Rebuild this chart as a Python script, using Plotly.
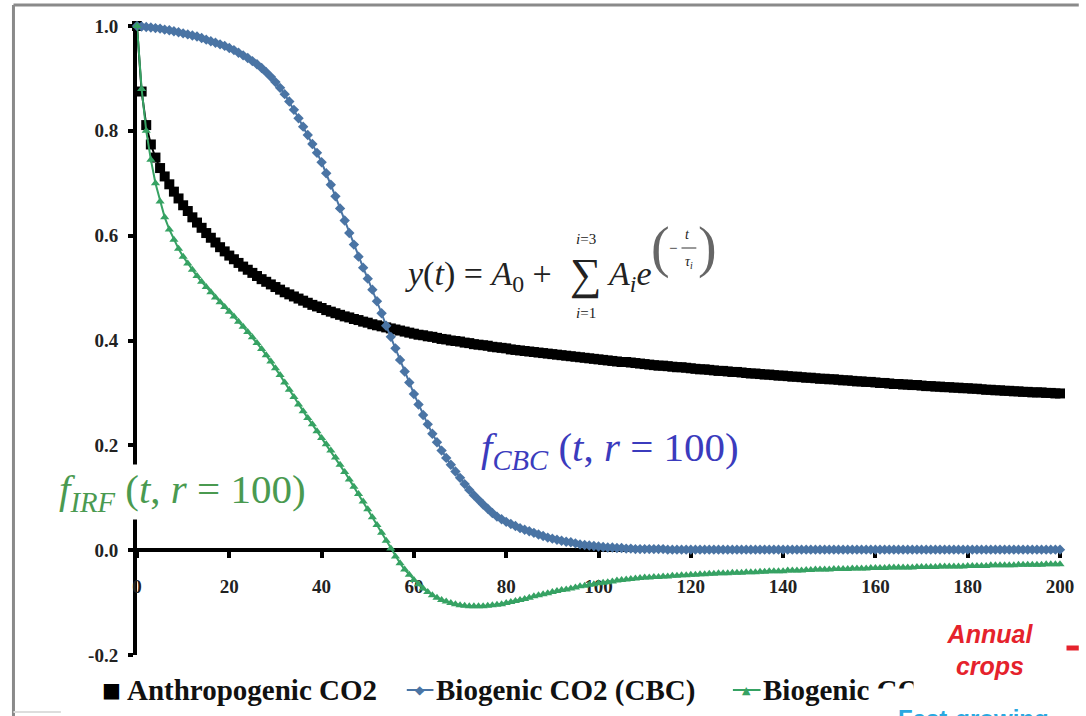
import plotly.graph_objects as go

# Years after the emission pulse
YEARS = list(range(0, 201))

ANTHROPOGENIC = [
    1.000, 0.875, 0.811, 0.774, 0.749, 0.729, 0.713, 0.698, 0.684, 0.671,
    0.658, 0.647, 0.635, 0.625, 0.615, 0.605, 0.596, 0.587, 0.578, 0.570,
    0.562, 0.555, 0.548, 0.541, 0.535, 0.529, 0.523, 0.517, 0.512, 0.507,
    0.502, 0.497, 0.492, 0.488, 0.484, 0.480, 0.476, 0.472, 0.468, 0.465,
    0.462, 0.458, 0.455, 0.452, 0.449, 0.446, 0.444, 0.441, 0.439, 0.436,
    0.434, 0.431, 0.429, 0.427, 0.425, 0.423, 0.421, 0.419, 0.417, 0.415,
    0.413, 0.411, 0.410, 0.408, 0.407, 0.405, 0.403, 0.402, 0.400, 0.399,
    0.398, 0.396, 0.395, 0.393, 0.392, 0.391, 0.390, 0.388, 0.387, 0.386,
    0.385, 0.383, 0.382, 0.381, 0.380, 0.379, 0.378, 0.377, 0.376, 0.375,
    0.374, 0.373, 0.372, 0.371, 0.370, 0.369, 0.368, 0.367, 0.366, 0.365,
    0.364, 0.363, 0.362, 0.361, 0.360, 0.359, 0.359, 0.358, 0.357, 0.356,
    0.355, 0.354, 0.353, 0.352, 0.352, 0.351, 0.350, 0.349, 0.349, 0.348,
    0.347, 0.346, 0.345, 0.345, 0.344, 0.343, 0.342, 0.342, 0.341, 0.340,
    0.340, 0.339, 0.338, 0.337, 0.337, 0.336, 0.335, 0.335, 0.334, 0.333,
    0.333, 0.332, 0.331, 0.331, 0.330, 0.329, 0.329, 0.328, 0.327, 0.327,
    0.326, 0.326, 0.325, 0.324, 0.324, 0.323, 0.322, 0.322, 0.321, 0.321,
    0.320, 0.319, 0.319, 0.318, 0.317, 0.317, 0.316, 0.316, 0.315, 0.315,
    0.314, 0.313, 0.313, 0.312, 0.312, 0.311, 0.311, 0.310, 0.310, 0.309,
    0.309, 0.308, 0.308, 0.307, 0.306, 0.306, 0.305, 0.305, 0.304, 0.304,
    0.303, 0.303, 0.302, 0.302, 0.301, 0.301, 0.301, 0.300, 0.300, 0.299,
    0.299,
]

BIOGENIC_CBC = [
    1.000, 0.999, 0.998, 0.997, 0.996, 0.995, 0.993, 0.992, 0.990, 0.988,
    0.986, 0.984, 0.982, 0.980, 0.977, 0.974, 0.971, 0.968, 0.965, 0.962,
    0.958, 0.954, 0.949, 0.944, 0.939, 0.933, 0.927, 0.920, 0.912, 0.903,
    0.893, 0.882, 0.870, 0.856, 0.840, 0.824, 0.808, 0.792, 0.775, 0.758,
    0.740, 0.719, 0.697, 0.675, 0.652, 0.629, 0.605, 0.583, 0.560, 0.539,
    0.518, 0.497, 0.475, 0.452, 0.428, 0.407, 0.385, 0.363, 0.341, 0.320,
    0.298, 0.278, 0.258, 0.240, 0.222, 0.206, 0.190, 0.176, 0.163, 0.150,
    0.138, 0.126, 0.115, 0.105, 0.096, 0.087, 0.079, 0.071, 0.064, 0.059,
    0.054, 0.050, 0.046, 0.042, 0.039, 0.036, 0.033, 0.030, 0.027, 0.024,
    0.022, 0.020, 0.018, 0.016, 0.015, 0.013, 0.011, 0.010, 0.009, 0.008,
    0.007, 0.006, 0.005, 0.005, 0.004, 0.004, 0.003, 0.003, 0.002, 0.002,
    0.002, 0.002, 0.002, 0.002, 0.002, 0.001, 0.001, 0.001, 0.001, 0.001,
    0.001, 0.001, 0.001, 0.001, 0.001, 0.001, 0.001, 0.001, 0.001, 0.001,
    0.001, 0.001, 0.001, 0.001, 0.001, 0.001, 0.001, 0.001, 0.001, 0.001,
    0.001, 0.001, 0.001, 0.001, 0.001, 0.001, 0.001, 0.001, 0.001, 0.001,
    0.001, 0.001, 0.001, 0.001, 0.001, 0.001, 0.001, 0.001, 0.001, 0.001,
    0.001, 0.001, 0.001, 0.001, 0.001, 0.001, 0.001, 0.001, 0.001, 0.001,
    0.001, 0.001, 0.001, 0.001, 0.001, 0.001, 0.001, 0.001, 0.001, 0.001,
    0.001, 0.001, 0.001, 0.001, 0.001, 0.001, 0.001, 0.001, 0.001, 0.001,
    0.001, 0.001, 0.001, 0.001, 0.001, 0.001, 0.001, 0.001, 0.001, 0.001,
    0.001,
]

BIOGENIC_IRF = [
    1.000, 0.880, 0.800, 0.745, 0.700, 0.665, 0.635, 0.612, 0.592, 0.575,
    0.560, 0.547, 0.535, 0.523, 0.512, 0.502, 0.492, 0.482, 0.473, 0.464,
    0.455, 0.446, 0.436, 0.426, 0.416, 0.406, 0.395, 0.384, 0.372, 0.360,
    0.347, 0.334, 0.320, 0.306, 0.292, 0.278, 0.265, 0.252, 0.240, 0.227,
    0.214, 0.202, 0.190, 0.177, 0.163, 0.149, 0.135, 0.121, 0.107, 0.093,
    0.078, 0.063, 0.048, 0.033, 0.018, 0.003, -0.012, -0.025, -0.037, -0.047,
    -0.057, -0.065, -0.073, -0.080, -0.086, -0.091, -0.095, -0.098, -0.101, -0.103,
    -0.105, -0.106, -0.107, -0.107, -0.107, -0.107, -0.106, -0.105, -0.104, -0.103,
    -0.101, -0.099, -0.097, -0.095, -0.093, -0.091, -0.088, -0.086, -0.084, -0.082,
    -0.080, -0.078, -0.076, -0.075, -0.073, -0.071, -0.069, -0.068, -0.066, -0.065,
    -0.063, -0.062, -0.061, -0.060, -0.058, -0.057, -0.056, -0.055, -0.054, -0.053,
    -0.052, -0.052, -0.051, -0.051, -0.050, -0.050, -0.049, -0.049, -0.048, -0.048,
    -0.047, -0.047, -0.046, -0.046, -0.045, -0.045, -0.044, -0.044, -0.044, -0.043,
    -0.043, -0.043, -0.042, -0.042, -0.042, -0.041, -0.041, -0.040, -0.040, -0.040,
    -0.040, -0.039, -0.039, -0.039, -0.039, -0.038, -0.038, -0.037, -0.037, -0.037,
    -0.037, -0.036, -0.036, -0.036, -0.036, -0.035, -0.035, -0.035, -0.035, -0.034,
    -0.034, -0.034, -0.034, -0.033, -0.033, -0.033, -0.033, -0.033, -0.033, -0.032,
    -0.032, -0.032, -0.032, -0.032, -0.031, -0.031, -0.031, -0.031, -0.031, -0.031,
    -0.030, -0.030, -0.030, -0.030, -0.030, -0.029, -0.029, -0.029, -0.029, -0.029,
    -0.029, -0.028, -0.028, -0.028, -0.028, -0.028, -0.028, -0.027, -0.027, -0.027,
    -0.027,
]

X_TICKS = [0, 20, 40, 60, 80, 100, 120, 140, 160, 180, 200]
Y_TICKS = [-0.2, 0.0, 0.2, 0.4, 0.6, 0.8, 1.0]

SERIES_NAMES = ["Anthropogenic CO2", "Biogenic CO2 (CBC)", "Biogenic CO2 (IRF)"]

BLACK = "#000000"
BLUE = "#4a74a4"
GREEN = "#36a263"
SERIF = "Liberation Serif"
SANS = "Liberation Sans"
NB = "\u00a0"

W, H = 1086, 716
L, R, T, B = 137, 15, 26, 61


def fx(px):
    return (px - L) / (W - L - R)


def fy(py):
    return (H - B - py) / (H - T - B)


fig = go.Figure()

fig.add_trace(go.Scatter(
    x=YEARS, y=ANTHROPOGENIC, name=SERIES_NAMES[0], mode="lines+markers",
    line=dict(color=BLACK, width=2),
    marker=dict(symbol="square", size=10, color=BLACK, line=dict(width=0)),
    cliponaxis=False,
))
fig.add_trace(go.Scatter(
    x=YEARS, y=BIOGENIC_CBC, name=SERIES_NAMES[1], mode="lines+markers",
    line=dict(color=BLUE, width=2),
    marker=dict(symbol="diamond", size=8, color=BLUE, line=dict(width=0)),
    cliponaxis=False,
))
fig.add_trace(go.Scatter(
    x=YEARS, y=BIOGENIC_IRF, name=SERIES_NAMES[2], mode="lines+markers",
    line=dict(color=GREEN, width=2),
    marker=dict(symbol="triangle-up", size=8, color=GREEN, line=dict(width=0)),
    cliponaxis=False,
))

annotations = []


def note(text, x, y, size, color="#222222", family=SERIF, xanchor="center",
         yanchor="middle", **kw):
    annotations.append(dict(
        text=text, x=fx(x), y=fy(y), xref="paper", yref="paper",
        showarrow=False, xanchor=xanchor, yanchor=yanchor,
        font=dict(family=family, size=size, color=color), **kw))


# Impulse-response formula
note(f"<i>y</i>(<i>t</i>){NB}={NB}<i>A</i><sub>0</sub>{NB}+", 406, 276, 34,
     xanchor="left")
note("∑", 591, 274, 44)
note("<i>i</i>=3", 591, 239, 15)
note("<i>i</i>=1", 591, 313, 15)
note("<i>A</i><sub><i>i</i></sub><i>e</i>", 611, 276, 34, xanchor="left")
note("(", 667, 248, 56, color="#666666")
note(")", 714, 248, 56, color="#666666")
note("−", 679, 248, 15)
note("<i>t</i>", 694, 234, 14)
note("<i>τ</i><sub><i>i</i></sub>", 696, 262, 14)

# Curve labels
note(f"<i>f</i><sub><i>CBC</i></sub>{NB}(<i>t</i>,{NB}<i>r</i>{NB}={NB}100)", 483, 450,
     41, color="#3b3bbd", xanchor="left")
note(f"<i>f</i><sub><i>IRF</i></sub>{NB}(<i>t</i>,{NB}<i>r</i>{NB}={NB}100)", 56, 492,
     41, color="#4a9a50", xanchor="left", bgcolor="white")

# Legend row
note("■", 111, 690, 20, color=BLACK, family="DejaVu Sans")
note("<b>" + SERIES_NAMES[0] + "</b>", 125, 690, 29, color="#111111", xanchor="left")
note("◆", 423, 690, 12, color=BLUE, family="DejaVu Sans")
note("<b>" + SERIES_NAMES[1] + "</b>", 438, 690, 29, color="#111111", xanchor="left")
note("▲", 754, 690, 11, color=GREEN, family="DejaVu Sans")
note("<b>" + SERIES_NAMES[2] + "</b>", 768, 690, 29, color="#111111", xanchor="left")

# Side labels laid over the legend's end
note(" ", 882, 688, 10, xanchor="left", yanchor="top", bgcolor="white",
     width=300, height=60)
note("<b>Fast-growing</b>", 905, 703, 24, color="#2aa8e0", family=SANS,
     xanchor="left", yanchor="top")
note("<b><i>Annual<br>crops</i></b>", 1000, 650, 25, color="#e5222c", family=SANS,
     bgcolor="white", width=150, height=78)

shapes = [
    # legend line samples
    dict(type="line", xref="paper", yref="paper", x0=fx(410), x1=fx(437),
         y0=fy(690), y1=fy(690), line=dict(color=BLUE, width=2)),
    dict(type="line", xref="paper", yref="paper", x0=fx(740), x1=fx(768),
         y0=fy(690), y1=fy(690), line=dict(color=GREEN, width=2)),
    # exponent fraction bar
    dict(type="line", xref="paper", yref="paper", x0=fx(688), x1=fx(703),
         y0=fy(248), y1=fy(248), line=dict(color="#333333", width=1)),
    # red key dash at the right edge
    dict(type="line", xref="paper", yref="paper", x0=fx(1071), x1=fx(1090),
         y0=fy(648), y1=fy(648), line=dict(color="#e5222c", width=5)),
    # outer frame
    dict(type="line", xref="paper", yref="paper", x0=fx(12), x1=fx(12),
         y0=fy(5), y1=fy(720), line=dict(color="#8a8a8a", width=3)),
    dict(type="line", xref="paper", yref="paper", x0=fx(12), x1=fx(1090),
         y0=fy(5), y1=fy(5), line=dict(color="#8a8a8a", width=3)),
    dict(type="line", xref="paper", yref="paper", x0=fx(12), x1=fx(60),
         y0=fy(712), y1=fy(712), line=dict(color="#dddddd", width=2)),
]

tick_font = dict(family=SERIF, size=19, color="#222222", weight="bold")

fig.update_layout(
    width=W, height=H,
    margin=dict(l=L, r=R, t=T, b=B),
    paper_bgcolor="white", plot_bgcolor="white",
    showlegend=False,
    annotations=annotations,
    shapes=shapes,
    xaxis=dict(
        range=[0, 200], tickvals=X_TICKS, ticktext=[str(v) for v in X_TICKS],
        showgrid=False, zeroline=False, showline=True, linecolor=BLACK,
        linewidth=4, ticks="outside", ticklen=6, tickwidth=4, tickcolor=BLACK,
        anchor="free", position=1 / 6, tickfont=tick_font,
        ticklabelstandoff=12, layer="below traces",
    ),
    yaxis=dict(
        range=[-0.2, 1.0], tickvals=Y_TICKS,
        ticktext=[f"{v:.1f}" for v in Y_TICKS],
        showgrid=False, zeroline=False, showline=True, linecolor=BLACK,
        linewidth=4, ticks="outside", ticklen=5, tickwidth=4, tickcolor=BLACK,
        tickfont=tick_font, ticklabelstandoff=6, layer="below traces",
    ),
)

fig.write_html("out.html")
